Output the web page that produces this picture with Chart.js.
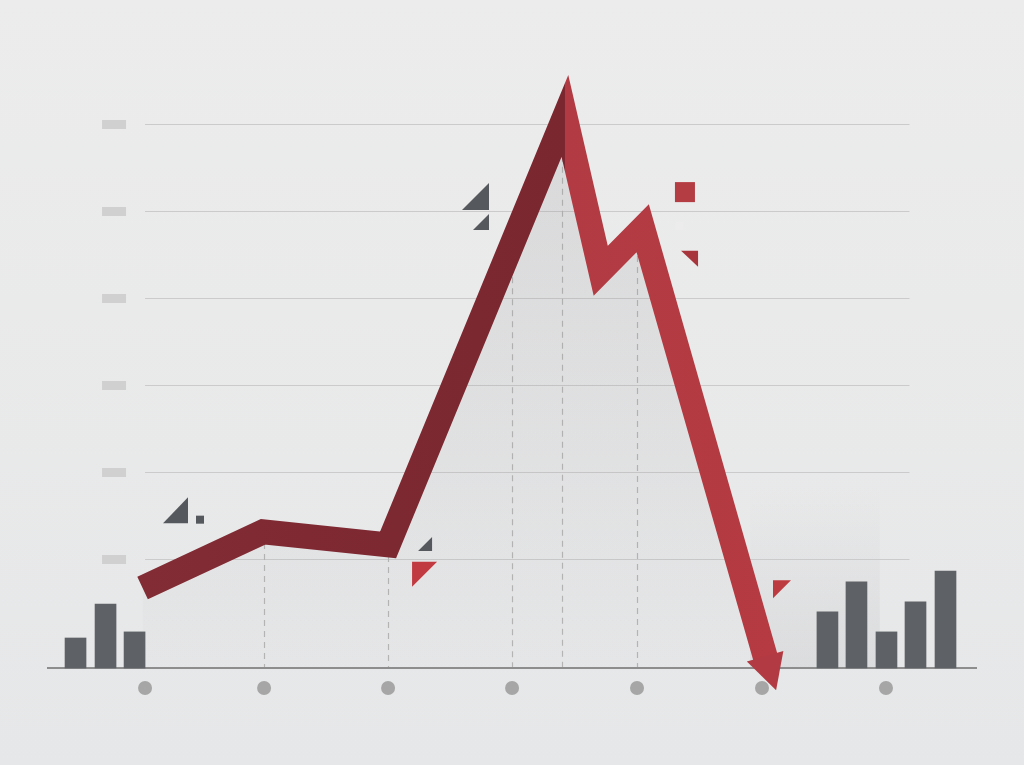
<!DOCTYPE html>
<html><head><meta charset="utf-8">
<script src="https://cdn.jsdelivr.net/npm/chart.js@4.4.1/dist/chart.umd.min.js"></script>
<style>html,body{margin:0;padding:0;background:#e9e9e9;overflow:hidden}#wrap{width:1024px;height:765px}canvas{display:block}</style>
</head><body><div id="wrap"><canvas id="c" width="1024" height="765"></canvas></div>
<script>
// ---- data (x in category-slot units, y in value units) ----
const categories = ['1','2','3','4','5','6','7'];
const categoryX = [0, 0.964, 1.968, 2.972, 3.984, 4.996, 6.0];
const categoryMarkerY = [-4.6, -4.6, -4.6, -4.6, -4.6, -4.6, -4.6];
const lineX = [-0.02, 0.955, 1.968, 3.40, 3.69, 4.03, 5.03];
const lineY = [18.4, 31.3, 28.3, 126.9, 91.3, 101.1, 1.8];
const arrowTipX = [5.11];
const arrowTipY = [-5.1];
const barX = [-0.563, -0.32, -0.085, 5.526, 5.761, 6.004, 6.239, 6.482];
const barY = [6.9, 14.7, 8.3, 12.9, 19.8, 8.3, 15.2, 22.3];
const gridValues = [25, 45, 65, 85, 105, 125];
const gridRange = [0, 6.19];
const dropX = [0.964, 1.968, 2.972, 3.377, 3.984];
const peakX = [3.40];

// ---- ornaments (anchor in data units, sizes in px) ----
const ornaments = [
  {t:'tri', x:0.348, y:33.3, dx:-25, dy:-26, c:'#55585c'},
  {t:'sq',  x:0.445, y:34.1, s:8, c:'#55585c'},
  {t:'tri', x:2.324, y:26.9, dx:-14, dy:-14, c:'#55585c'},
  {t:'tri', x:2.162, y:24.4, dx:25, dy:25, c:'#c13a41'},
  {t:'tri', x:2.785, y:105.3, dx:-27, dy:-27, c:'#55585c'},
  {t:'tri', x:2.785, y:100.7, dx:-16, dy:-16, c:'#55585c'},
  {t:'sq',  x:4.372, y:109.4, s:20, c:'#b43c43'},
  {t:'sq',  x:4.33,  y:101.6, s:8, c:'#ececec'},
  {t:'tri', x:4.478, y:95.9, dx:-17, dy:16, c:'#a8353c'},
  {t:'tri', x:5.085, y:20.2, dx:18, dy:18, c:'#bd3a41'}
];

const DARK = '#7e2a33', LIGHT = '#b23b43';

function lineYAt(x){
  for (let i = 0; i < lineX.length - 1; i++){
    if (x >= lineX[i] && x <= lineX[i+1]){
      const t = (x - lineX[i]) / (lineX[i+1] - lineX[i]);
      return lineY[i] + t * (lineY[i+1] - lineY[i]);
    }
  }
  return 0;
}

const decor = {
  id: 'decor',
  beforeDraw(chart){
    const ctx = chart.ctx;
    const g = ctx.createLinearGradient(0, 0, 0, chart.height);
    g.addColorStop(0, '#ececec'); g.addColorStop(1, '#e6e7e8');
    ctx.save(); ctx.fillStyle = g; ctx.fillRect(0, 0, chart.width, chart.height); ctx.restore();
  },
  beforeDatasetsDraw(chart){
    const ctx = chart.ctx, xs = chart.scales.x, ys = chart.scales.y, ca = chart.chartArea;
    ctx.save();
    // right shadow
    const sx0 = xs.getPixelForValue(4.9), sx1 = xs.getPixelForValue(5.95);
    const sy0 = ys.getPixelForValue(42), sy1 = ys.getPixelForValue(0);
    const sg = ctx.createLinearGradient(0, sy0, 0, sy1);
    sg.addColorStop(0, 'rgba(150,150,155,0)'); sg.addColorStop(1, 'rgba(150,150,155,0.14)');
    ctx.fillStyle = sg; ctx.fillRect(sx0, sy0, sx1 - sx0, sy1 - sy0);
    // grid lines + tick placeholders
    const gx0 = xs.getPixelForValue(gridRange[0]), gx1 = xs.getPixelForValue(gridRange[1]);
    gridValues.forEach(v => {
      const y = Math.round(ys.getPixelForValue(v)) + 0.5;
      ctx.strokeStyle = '#cbcbcb'; ctx.lineWidth = 1.2;
      ctx.beginPath(); ctx.moveTo(gx0, y); ctx.lineTo(gx1, y); ctx.stroke();
      ctx.fillStyle = '#d0d0d0';
      ctx.fillRect(gx0 - 43, y - 4.5, 24, 9);
    });
    // dashed drop lines
    ctx.setLineDash([6, 5]); ctx.strokeStyle = '#b5b5b5'; ctx.lineWidth = 1.2;
    dropX.forEach(x => {
      const px = Math.round(xs.getPixelForValue(x)) + 0.5;
      ctx.beginPath(); ctx.moveTo(px, ys.getPixelForValue(lineYAt(x))); ctx.lineTo(px, ys.getPixelForValue(0)); ctx.stroke();
    });
    ctx.setLineDash([]);
    // baseline
    const by = ys.getPixelForValue(0);
    ctx.strokeStyle = '#8d8d8d'; ctx.lineWidth = 2;
    ctx.beginPath(); ctx.moveTo(ca.left, by); ctx.lineTo(ca.right, by); ctx.stroke();
    ctx.restore();
  },
  afterDatasetsDraw(chart){
    const ctx = chart.ctx, xs = chart.scales.x, ys = chart.scales.y;
    ctx.save();
    // arrow head
    const n = lineX.length - 1;
    const px = xs.getPixelForValue(lineX[n]), py = ys.getPixelForValue(lineY[n]);
    const tx = xs.getPixelForValue(arrowTipX[0]), ty = ys.getPixelForValue(arrowTipY[0]);
    const qx = xs.getPixelForValue(lineX[n-1]), qy = ys.getPixelForValue(lineY[n-1]);
    let dx = px - qx, dy = py - qy; const L = Math.hypot(dx, dy); dx /= L; dy /= L;
    const bx = px - dx * 4, by = py - dy * 4, nx = -dy, ny = dx, hw = 19;
    ctx.fillStyle = LIGHT;
    ctx.beginPath(); ctx.moveTo(bx + nx * hw, by + ny * hw); ctx.lineTo(tx, ty); ctx.lineTo(bx - nx * hw, by - ny * hw); ctx.closePath(); ctx.fill();
    // ornaments
    ornaments.forEach(o => {
      const ox = xs.getPixelForValue(o.x), oy = ys.getPixelForValue(o.y);
      ctx.fillStyle = o.c;
      if (o.t === 'sq') { ctx.fillRect(ox - o.s / 2, oy - o.s / 2, o.s, o.s); }
      else { ctx.beginPath(); ctx.moveTo(ox, oy); ctx.lineTo(ox + o.dx, oy); ctx.lineTo(ox, oy + o.dy); ctx.closePath(); ctx.fill(); }
    });
    ctx.restore();
  }
};

new Chart(document.getElementById('c'), {
  type: 'line',
  data: {
    datasets: [
      {
        type: 'line', order: 0,
        data: lineX.map((x, i) => ({x, y: lineY[i]})),
        borderWidth: 25, borderJoinStyle: 'miter', borderCapStyle: 'butt',
        pointRadius: 0, tension: 0,
        borderColor(c){
          const ch = c.chart, ca = ch.chartArea;
          if (!ca) return DARK;
          const p = ch.scales.x.getPixelForValue(peakX[0]);
          const g = ch.ctx.createLinearGradient(ca.left, 0, ca.right, 0);
          const s = (p - ca.left) / (ca.right - ca.left);
          g.addColorStop(0, '#842d36'); g.addColorStop(s - 0.0005, '#7a2730');
          g.addColorStop(s + 0.0005, LIGHT); g.addColorStop(1, '#b8393f');
          return g;
        },
        fill: 'origin',
        backgroundColor(c){
          const ch = c.chart, ca = ch.chartArea;
          if (!ca) return 'rgba(150,150,150,0.1)';
          const g = ch.ctx.createLinearGradient(0, ch.scales.y.getPixelForValue(130), 0, ch.scales.y.getPixelForValue(0));
          g.addColorStop(0, 'rgba(140,140,145,0.2)');
          g.addColorStop(1, 'rgba(140,140,145,0.02)');
          return g;
        }
      },
      {
        type: 'bar', order: 1,
        data: barX.map((x, i) => ({x, y: barY[i]})),
        backgroundColor: '#5e6165', barThickness: 21, borderWidth: 0
      },
      {
        type: 'line', order: 2, showLine: false,
        data: categoryX.map((x, i) => ({x, y: categoryMarkerY[i]})),
        pointRadius: 7, pointHoverRadius: 7, pointBackgroundColor: '#a6a6a6', pointBorderWidth: 0
      }
    ]
  },
  options: {
    responsive: false, animation: false,
    layout: {padding: {left: 47, right: 47, top: 59, bottom: 10}},
    plugins: {legend: {display: false}, tooltip: {enabled: false}},
    scales: {
      x: {type: 'linear', min: -0.794, max: 6.737, display: false, offset: false},
      y: {type: 'linear', min: -20, max: 140, display: false}
    }
  },
  plugins: [decor]
});
</script>
</body></html>
